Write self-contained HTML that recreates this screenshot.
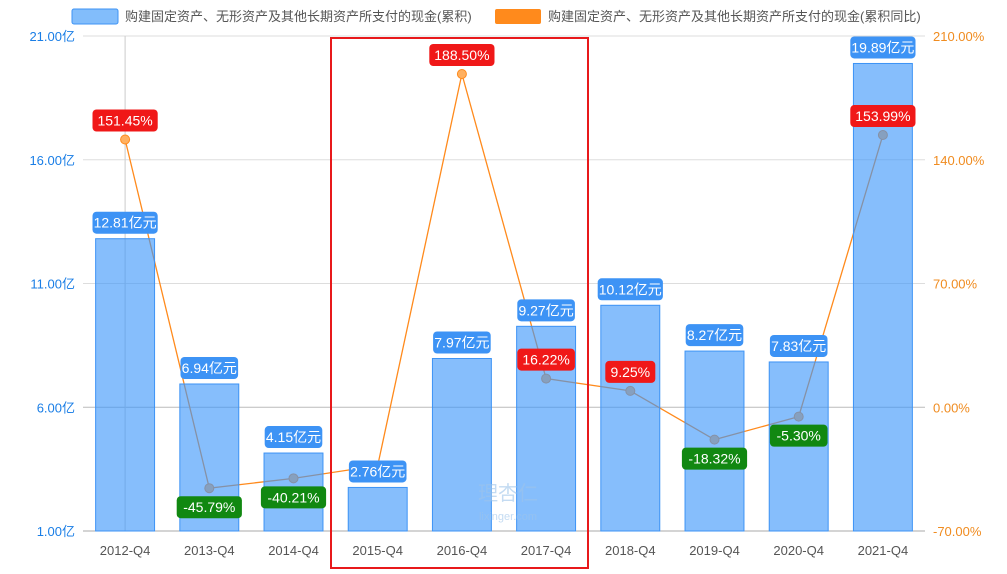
<!DOCTYPE html>
<html><head><meta charset="utf-8">
<style>
body{margin:0;background:#fff;font-family:"Liberation Sans","Noto Sans CJK SC",sans-serif;}
svg{display:block}
text{font-family:"Liberation Sans","Noto Sans CJK SC",sans-serif;}
</style></head>
<body>
<svg id="chart" width="1007" height="574">
<g id="legend">
<rect x="72" y="9" width="46" height="15" rx="2" fill="#82bdfb" stroke="#3d93f5"/>
<text x="125" y="21" font-size="13" fill="#555">购建固定资产、无形资产及其他长期资产所支付的现金(累积)</text>
<rect x="495" y="9" width="46" height="15" rx="2" fill="#ff8a1c"/>
<text x="548" y="21" font-size="13" fill="#555">购建固定资产、无形资产及其他长期资产所支付的现金(累积同比)</text>
</g>
<g id="grid"></g>
<g id="line"></g>
<g id="bars"></g>
<g id="labels"></g>
<text x="508" y="500" font-size="20" fill="#9ec4ea" text-anchor="middle" opacity="0.6">理杏仁</text>
<text x="508" y="520" font-size="11" fill="#9ec4ea" text-anchor="middle" opacity="0.6">lixinger.com</text>
<rect x="331" y="38" width="257" height="530" fill="none" stroke="#e8191b" stroke-width="2"/>
</svg>
<script>
const categories=["2012-Q4","2013-Q4","2014-Q4","2015-Q4","2016-Q4","2017-Q4","2018-Q4","2019-Q4","2020-Q4","2021-Q4"];
const barValues=[12.81,6.94,4.15,2.76,7.97,9.27,10.12,8.27,7.83,19.89];
const lineValues=[151.45,-45.79,-40.21,-33,188.50,16.22,9.25,-18.32,-5.30,153.99];
const leftTicks=[1,6,11,16,21];
const rightTicks=[-70,0,70,140,210];
const NS="http://www.w3.org/2000/svg";
const X0=83,X1=925,Y0=531,Y1=36;
const band=(X1-X0)/categories.length;
const xc=i=>X0+band*(i+0.5);
const yL=v=>Y0-(v-1)/(21-1)*(Y0-Y1);
const yR=v=>Y0-(v+70)/(280)*(Y0-Y1);
function mk(tag,attrs,parent,txt){const e=document.createElementNS(NS,tag);for(const k in attrs)e.setAttribute(k,attrs[k]);if(txt!==undefined)e.textContent=txt;document.getElementById(parent).appendChild(e);return e;}
// grid & axes
leftTicks.forEach((t,i)=>{
 const y=yL(t);
 const g=mk('line',{x1:X0,x2:X1,y1:y,y2:y,stroke:i==1?'#bbb':'#ddd','stroke-width':1},'grid');
 
 
 const lt=mk('text',{x:75,y:y+5,'font-size':13,fill:'#1a7ee6','text-anchor':'end'},'grid',t.toFixed(2)+'亿');
 
 
});
rightTicks.forEach(t=>{
 const rt=mk('text',{x:933,y:yR(t)+5,'font-size':13,fill:'#f08c20'},'grid',t.toFixed(2)+'%');
 
 
});
const vl=mk('line',{x1:xc(0),x2:xc(0),y1:Y1,y2:Y0,stroke:'#ccc'},'grid');


const ax=mk('line',{x1:X0,x2:X1,y1:Y0,y2:Y0,stroke:'#aaa'},'grid');


categories.forEach((c,i)=>{
 const t=mk('text',{x:xc(i),y:555,'font-size':13,fill:'#555','text-anchor':'middle'},'grid',c);
 
 
});
// line
const pts=lineValues.map((v,i)=>xc(i)+','+yR(v)).join(' ');
const pl=mk('polyline',{points:pts,fill:'none',stroke:'#ff8a1c','stroke-width':1.3},'line');


lineValues.forEach((v,i)=>{
 const c=mk('circle',{cx:xc(i),cy:yR(v),r:4.5,fill:'#ffb060',stroke:'#ff8a1c'},'line');
 
 
});
// bars
const bw=band*0.7;
barValues.forEach((v,i)=>{
 const y=yL(v);
 const r=mk('rect',{x:xc(i)-bw/2,y:y,width:bw,height:Y0-y,fill:'rgba(60,150,250,0.62)',stroke:'#3d93f5','stroke-width':1},'bars');
 
 
});
function label(x,y,txt,bg,name){
 const w=txt.length*7.6+12;
 const r=mk('rect',{x:x-w/2,y:y,width:w,height:22,rx:4,fill:bg},'labels');
 
 
 const t=mk('text',{x:x,y:y+16,'font-size':14,fill:'#fff','text-anchor':'middle'},'labels',txt);
 
 
}
barValues.forEach((v,i)=>label(xc(i),yL(v)-27,v.toFixed(2)+'亿元','#3d93f5','bar-value-label'));
lineValues.forEach((v,i)=>{
 if(i===3)return;
 if(v>=0)label(xc(i),yR(v)-30,v.toFixed(2)+'%','#f01818','yoy-value-label');
 else label(xc(i),yR(v)+8,v.toFixed(2)+'%','#118811','yoy-value-label');
});
</script>
</body></html>
